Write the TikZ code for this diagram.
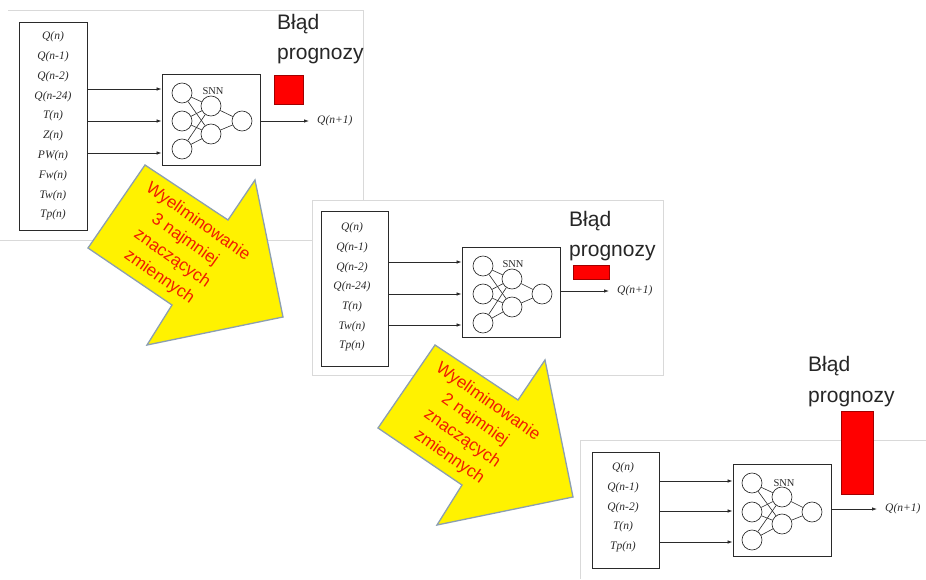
\documentclass[tikz,border=0pt]{standalone}
\usepackage{fontspec}
\setmainfont{Liberation Serif}
\newfontfamily\labelsans{Liberation Sans}
\usetikzlibrary{arrows.meta}
\definecolor{framegray}{HTML}{D9D9D9}
\definecolor{arrowedge}{HTML}{8C9FB0}
\definecolor{errred}{HTML}{FF0000}
\definecolor{erredge}{HTML}{A00000}
\definecolor{notered}{HTML}{F01C00}
\definecolor{inkgray}{HTML}{2A2A2A}

\begin{document}
\begin{tikzpicture}[x=1pt,y=-1pt,
  frame/.style={draw=framegray, line width=0.6pt},
  inbox/.style={draw=inkgray, line width=0.8pt, inner sep=0pt},
  snnbox/.style={draw=inkgray, line width=0.8pt, inner sep=0pt},
  neuron/.style={circle, draw=inkgray, line width=0.65pt, minimum size=20pt, inner sep=0pt},
  synapse/.style={draw=inkgray, line width=0.6pt},
  feed/.style={draw=inkgray, line width=0.75pt, -{Latex[length=5pt,width=3.5pt]}},
  varlabel/.style={font=\fontsize{11.5}{12}\selectfont\itshape, inner sep=0pt, text=inkgray},
  snnlabel/.style={font=\fontsize{10.5}{12}\selectfont, inner sep=0pt, text=inkgray},
  errtext/.style={font=\labelsans\fontsize{21}{25}\selectfont, anchor=base west, inner sep=0pt, text=black!85},
  errbar/.style={fill=errred, draw=erredge, line width=0.6pt, inner sep=0pt},
  bigarrow/.style={fill=yellow, draw=arrowedge, line width=1.3pt, line join=miter},
  arrowtext/.style={font=\labelsans\fontsize{17}{22.5}\selectfont, text=notered, align=center, rotate=-35, inner sep=0pt}
]
\useasboundingbox (0,0) rectangle (926,579);
\fill[white] (0,0) rectangle (926,579);

% ---------- stage 1: all ten input variables ----------
\draw[frame] (8,10) -- (363,10) -- (363,240);
\draw[frame] (0,240) -- (363,240);

\node[inbox, minimum width=68pt, minimum height=208pt] (p1in) at (53.5,126) {};
\foreach \lbl [count=\k from 0] in {Q(n),Q(n-1),Q(n-2),Q(n-24),T(n),Z(n),PW(n),Fw(n),Tw(n),Tp(n)}
  \node[varlabel] (p1v\k) at (53,{37+19.8*\k}) {\lbl};

\node[snnbox, minimum width=98pt, minimum height=91pt] (p1snn) at (211,119.5) {};
\node[neuron] (p1a1) at (182,93) {};
\node[neuron] (p1a2) at (182,121) {};
\node[neuron] (p1a3) at (182,149) {};
\node[neuron] (p1h1) at (211,106) {};
\node[neuron] (p1h2) at (211,134) {};
\node[neuron] (p1o) at (242,121) {};
\foreach \i in {1,2,3} \foreach \j in {1,2} \draw[synapse] (p1a\i) -- (p1h\j);
\draw[synapse] (p1h1) -- (p1o);
\draw[synapse] (p1h2) -- (p1o);
\node[snnlabel] (p1snnlbl) at (213,91) {SNN};

\coordinate (p1f1) at (0,89);
\coordinate (p1f2) at (0,121);
\coordinate (p1f3) at (0,153);
\foreach \i in {1,2,3} \draw[feed] (p1in.east |- p1f\i) -- (p1snn.west |- p1f\i);

\node[varlabel, anchor=west] (p1q) at (317,121) {Q(n+1)};
\draw[feed, shorten >=8pt] (p1snn.east |- p1q.west) -- (p1q.west);

\node[errbar, minimum width=29pt, minimum height=29pt] (p1bar) at (288.5,89.5) {};
\node[errtext] (p1err1) at (277,29) {Błąd};
\node[errtext] (p1err2) at (277,59) {prognozy};

% ---------- stage 2: seven input variables ----------
\draw[frame, fill=white] (312,200) rectangle (663,375);

\node[inbox, minimum width=67pt, minimum height=155pt] (p2in) at (354.5,288.5) {};
\foreach \lbl [count=\k from 0] in {Q(n),Q(n-1),Q(n-2),Q(n-24),T(n),Tw(n),Tp(n)}
  \node[varlabel] (p2v\k) at (352,{228+19.7*\k}) {\lbl};

\node[snnbox, minimum width=98pt, minimum height=90pt] (p2snn) at (511,292) {};
\node[neuron] (p2a1) at (483,266) {};
\node[neuron] (p2a2) at (483,294) {};
\node[neuron] (p2a3) at (483,323) {};
\node[neuron] (p2h1) at (512,279) {};
\node[neuron] (p2h2) at (512,307) {};
\node[neuron] (p2o) at (542,294) {};
\foreach \i in {1,2,3} \foreach \j in {1,2} \draw[synapse] (p2a\i) -- (p2h\j);
\draw[synapse] (p2h1) -- (p2o);
\draw[synapse] (p2h2) -- (p2o);
\node[snnlabel] (p2snnlbl) at (513,264) {SNN};

\coordinate (p2f1) at (0,262);
\coordinate (p2f2) at (0,294);
\coordinate (p2f3) at (0,325);
\foreach \i in {1,2,3} \draw[feed] (p2in.east |- p2f\i) -- (p2snn.west |- p2f\i);

\node[varlabel, anchor=west] (p2q) at (617,291) {Q(n+1)};
\draw[feed, shorten >=8pt] (p2snn.east |- p2q.west) -- (p2q.west);

\node[errbar, minimum width=36pt, minimum height=14pt] (p2bar) at (591,272) {};
\node[errtext] (p2err1) at (569,226) {Błąd};
\node[errtext] (p2err2) at (569,256) {prognozy};

% ---------- stage 3: five input variables ----------
\draw[frame] (926,440) -- (580,440) -- (580,579);

\node[inbox, minimum width=67pt, minimum height=116pt] (p3in) at (625.5,510) {};
\foreach \lbl [count=\k from 0] in {Q(n),Q(n-1),Q(n-2),T(n),Tp(n)}
  \node[varlabel] (p3v\k) at (623,{468+19.7*\k}) {\lbl};

\node[snnbox, minimum width=98pt, minimum height=92pt] (p3snn) at (782,510) {};
\node[neuron] (p3a1) at (752,483) {};
\node[neuron] (p3a2) at (752,512) {};
\node[neuron] (p3a3) at (752,540) {};
\node[neuron] (p3h1) at (782,497) {};
\node[neuron] (p3h2) at (782,524) {};
\node[neuron] (p3o) at (812,512) {};
\foreach \i in {1,2,3} \foreach \j in {1,2} \draw[synapse] (p3a\i) -- (p3h\j);
\draw[synapse] (p3h1) -- (p3o);
\draw[synapse] (p3h2) -- (p3o);
\node[snnlabel] (p3snnlbl) at (784,483) {SNN};

\coordinate (p3f1) at (0,481);
\coordinate (p3f2) at (0,511);
\coordinate (p3f3) at (0,542);
\foreach \i in {1,2,3} \draw[feed] (p3in.east |- p3f\i) -- (p3snn.west |- p3f\i);

\node[varlabel, anchor=west] (p3q) at (885,509) {Q(n+1)};
\draw[feed, shorten >=8pt] (p3snn.east |- p3q.west) -- (p3q.west);

\node[errbar, minimum width=32pt, minimum height=83pt] (p3bar) at (857,452.5) {};
\node[errtext] (p3err1) at (808,371) {Błąd};
\node[errtext] (p3err2) at (808,402) {prognozy};

% ---------- block arrows between the stages ----------
\draw[bigarrow] (88,248) -- (145,165) -- (228,220) -- (255,180) -- (283,317) -- (147,345) -- (172,305) -- cycle;
\node[arrowtext] (a1txt) at (178.5,249.5) {Wyeliminowanie\\3 najmniej\\znaczących\\zmiennych};

\draw[bigarrow] (378,428) -- (435,345) -- (518,400) -- (545,360) -- (573,497) -- (437,525) -- (462,485) -- cycle;
\node[arrowtext] (a2txt) at (468.5,429.5) {Wyeliminowanie\\2 najmniej\\znaczących\\zmiennych};
\end{tikzpicture}
\end{document}
